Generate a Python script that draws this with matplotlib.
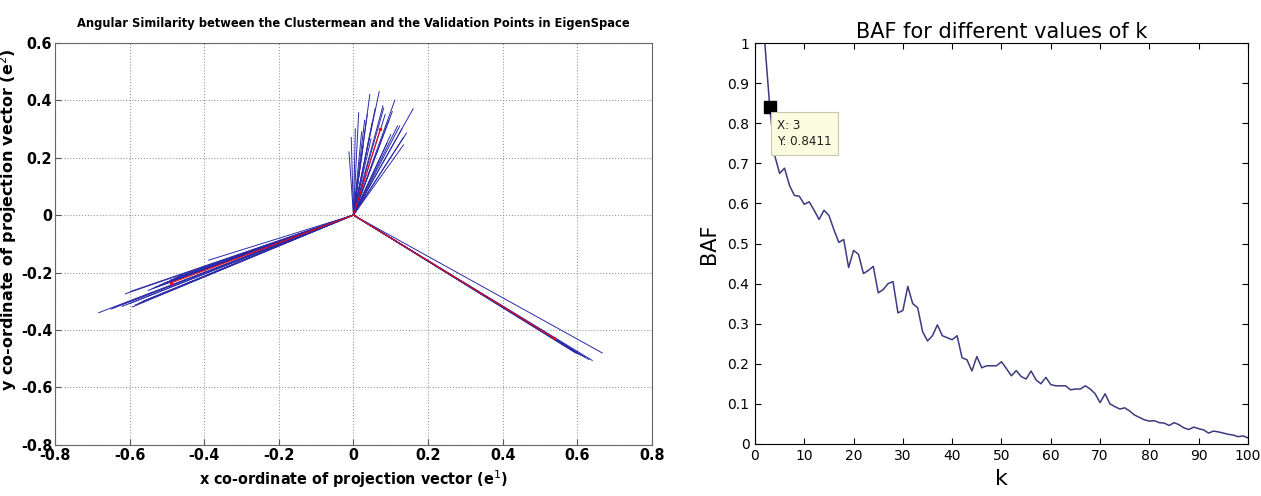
import numpy as np
import matplotlib
matplotlib.use("Agg")
import matplotlib.pyplot as plt

# --- left panel: end points of the projected vectors (e1, e2) ---
up_x = [-0.012, -0.006, 0.005, 0.014, 0.022, 0.030, 0.037, 0.044, 0.050, 0.058,
        0.069, 0.079, 0.081, 0.085, 0.095, 0.104, 0.111, 0.118, 0.124, 0.130,
        0.134, 0.142, 0.134, 0.160, 0.100, 0.090, 0.047, 0.026]
up_y = [0.220, 0.270, 0.300, 0.356, 0.290, 0.330, 0.350, 0.420, 0.320, 0.370,
        0.430, 0.380, 0.372, 0.350, 0.330, 0.360, 0.400, 0.310, 0.310, 0.300,
        0.244, 0.285, 0.270, 0.370, 0.280, 0.250, 0.265, 0.240]

ll_x = [-0.683, -0.650, -0.645, -0.611, -0.598, -0.593, -0.585, -0.575, -0.565, -0.550,
        -0.540, -0.530, -0.520, -0.510, -0.500, -0.490, -0.480, -0.470, -0.388, -0.460,
        -0.450, -0.620, -0.600]
ll_y = [-0.340, -0.327, -0.324, -0.274, -0.266, -0.320, -0.313, -0.307, -0.300, -0.262,
        -0.256, -0.250, -0.244, -0.238, -0.233, -0.226, -0.220, -0.214, -0.157, -0.246,
        -0.240, -0.318, -0.308]

lr_x = [0.667, 0.640, 0.631, 0.620, 0.610, 0.601, 0.598, 0.595, 0.590, 0.604]
lr_y = [-0.480, -0.506, -0.503, -0.495, -0.488, -0.480, -0.482, -0.478, -0.474, -0.484]

mean_x = [0.072, -0.490, 0.537]
mean_y = [0.300, -0.237, -0.428]

# --- right panel: BAF for k = 2..100 ---
k_vals = list(range(2, 101))
baf = [1.000, 0.8411, 0.720, 0.675, 0.688, 0.645, 0.620, 0.618, 0.598, 0.604,
       0.583, 0.560, 0.583, 0.570, 0.535, 0.503, 0.510, 0.440, 0.483, 0.473,
       0.425, 0.433, 0.443, 0.377, 0.385, 0.400, 0.405, 0.327, 0.333, 0.393,
       0.350, 0.340, 0.280, 0.257, 0.270, 0.297, 0.270, 0.265, 0.260, 0.270,
       0.215, 0.210, 0.182, 0.218, 0.190, 0.195, 0.195, 0.195, 0.205, 0.188,
       0.170, 0.183, 0.168, 0.162, 0.182, 0.160, 0.150, 0.166, 0.148, 0.145,
       0.145, 0.145, 0.135, 0.137, 0.137, 0.145, 0.137, 0.125, 0.103, 0.125,
       0.100, 0.093, 0.087, 0.090, 0.082, 0.072, 0.066, 0.060, 0.057, 0.058,
       0.053, 0.052, 0.046, 0.053, 0.048, 0.040, 0.036, 0.042, 0.038, 0.035,
       0.027, 0.032, 0.030, 0.027, 0.024, 0.022, 0.018, 0.020, 0.015]

cond = dict(family="DejaVu Sans", stretch="condensed", weight="bold")

fig = plt.figure(figsize=(12.61, 4.96), dpi=100)

# left chart
ax1 = fig.add_axes([0.0436, 0.103, 0.4734, 0.811])
for xs, ys in [(up_x, up_y), (ll_x, ll_y), (lr_x, lr_y)]:
    for x, y in zip(xs, ys):
        ax1.plot([0, x], [0, y], color="#2a2aa8", lw=0.7)
for x, y in zip(mean_x, mean_y):
    ax1.plot([0, x], [0, y], color="red", lw=0.7)
    ax1.plot(x, y, marker=".", color="red", ms=3)

ax1.set_xlim(-0.8, 0.8)
ax1.set_ylim(-0.8, 0.6)
ax1.set_xticks(np.arange(-0.8, 0.81, 0.2))
ax1.set_yticks(np.arange(-0.8, 0.61, 0.2))
ax1.set_xticklabels(["-0.8", "-0.6", "-0.4", "-0.2", "0", "0.2", "0.4", "0.6", "0.8"], **cond)
ax1.set_yticklabels(["-0.8", "-0.6", "-0.4", "-0.2", "0", "0.2", "0.4", "0.6"], **cond)
ax1.grid(True, linestyle=":", color="#999999", lw=0.8)
ax1.tick_params(direction="in", length=4, labelsize=11.5, pad=2, colors="#555555", labelcolor="black")
for sp in ax1.spines.values():
    sp.set_color("#666666")
ax1.set_title("Angular Similarity between the Clustermean and the Validation Points in EigenSpace",
              fontsize=9.2, pad=11, **cond)
ax1.set_xlabel("x co-ordinate of projection vector (e$^1$)", fontsize=11.5, labelpad=4, **cond)
ax1.set_ylabel("y co-ordinate of projection vector (e$^2$)", family="DejaVu Sans",
               fontweight="bold", fontsize=11.5)
ax1.yaxis.set_label_coords(-0.06, 0.56)

# right chart
ax2 = fig.add_axes([0.5987, 0.105, 0.391, 0.808])
ax2.plot(k_vals, baf, color="#3b3b7e", lw=1.1)
ax2.plot(k_vals[1], baf[1], marker="s", color="black", ms=8)
ax2.text(4.5, 0.774, "X: 3\nY: 0.8411", fontsize=9.5, va="center", ha="left",
         family="DejaVu Sans", stretch="condensed", color="#222222", linespacing=1.35,
         bbox=dict(boxstyle="square,pad=0.5", facecolor="#fbfbe0", edgecolor="#c8c8b0", lw=0.8))
ax2.set_xlim(0, 100)
ax2.set_ylim(0, 1)
ax2.set_xticks(range(0, 101, 10))
ax2.set_yticks(np.arange(0, 1.01, 0.1))
ax2.set_yticklabels(["0", "0.1", "0.2", "0.3", "0.4", "0.5", "0.6", "0.7", "0.8", "0.9", "1"])
ax2.tick_params(direction="in", length=4, labelsize=10, top=True, right=True, pad=4)
ax2.set_title("BAF for different values of k", fontsize=15, pad=4)
ax2.set_xlabel("k", fontsize=16, labelpad=4)
ax2.set_ylabel("BAF", fontsize=15, labelpad=6)

fig.savefig("out.png", dpi=100)
